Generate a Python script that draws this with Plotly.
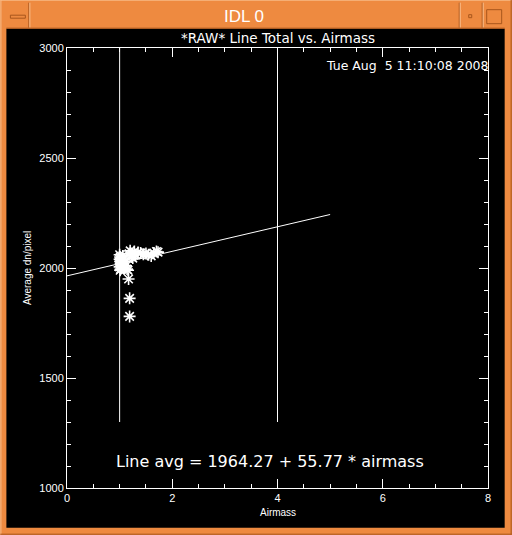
import plotly.graph_objects as go

# ---- data ----
airmass = [1.00, 1.01, 1.02, 1.00, 1.03, 1.01, 1.04, 1.02, 1.05, 1.03, 1.00, 1.04, 1.02, 1.01,
           1.06, 1.08, 1.10, 1.07, 1.12, 1.09, 1.14,
           1.18, 1.20, 1.22, 1.25, 1.28, 1.30,
           1.35, 1.40, 1.45, 1.50, 1.55, 1.60, 1.65, 1.70, 1.73,
           1.16, 1.17, 1.19, 1.19]
line_total = [2060, 2050, 2045, 2040, 2035, 2030, 2025, 2020, 2015, 2010, 2005, 2000, 1995, 1990,
              2055, 2040, 2030, 2020, 2010, 2000, 1995,
              2065, 2078, 2050, 2045, 2075, 2060,
              2070, 2068, 2062, 2066, 2060, 2055, 2068, 2075, 2072,
              1990, 1950, 1862, 1780]
fit_intercept = 1964.27
fit_slope = 55.77
fit_x = [0.0, 5.0]
marker_lines_x = [1.0, 4.0]
marker_lines_y = [1300, 3000]
x_ticks = [0, 2, 4, 6, 8]
y_ticks = [1000, 1500, 2000, 2500, 3000]

title_text = "*RAW* Line Total vs. Airmass"
date_text = "Tue Aug  5 11:10:08 2008"
fit_text = f"Line avg = {fit_intercept:.2f} + {fit_slope:.2f} * airmass"

# ---- geometry (pixels) ----
W, H = 512, 535
L, R, T, B = 66.7, 488.3, 48.3, 488.3


def fx(p):
    return (p - L) / (R - L)


def fy(p):
    return (B - p) / (B - T)


ORANGE = "#EE8A40"
LIGHT = "#F8BE8C"
DARK = "#A8561C"
FONT = "Liberation Sans"
WFONT = "DejaVu Sans"

fig = go.Figure()

# vertical reference lines
for xv in marker_lines_x:
    fig.add_trace(go.Scatter(x=[xv, xv], y=marker_lines_y, mode="lines",
                             line=dict(color="white", width=1), hoverinfo="skip"))

# fit line
fig.add_trace(go.Scatter(x=fit_x, y=[fit_intercept + fit_slope * v for v in fit_x],
                         mode="lines", line=dict(color="white", width=1), hoverinfo="skip"))

# data points
fig.add_trace(go.Scatter(x=airmass, y=line_total, mode="markers",
                         marker=dict(symbol="asterisk-open", size=10,
                                     color="white", line=dict(color="white", width=1.6))))

shapes = []


def rect(x0, y0, x1, y1, fill=None, line=None, lw=0):
    shapes.append(dict(type="rect", xref="paper", yref="paper",
                       x0=fx(x0), x1=fx(x1), y0=fy(y1), y1=fy(y0),
                       fillcolor=fill if fill else "rgba(0,0,0,0)",
                       line=dict(color=line if line else "rgba(0,0,0,0)", width=lw),
                       layer="below"))


def seg(x0, y0, x1, y1, color, lw=1):
    shapes.append(dict(type="line", xref="paper", yref="paper",
                       x0=fx(x0), x1=fx(x1), y0=fy(y0), y1=fy(y1),
                       line=dict(color=color, width=lw), layer="below"))


# window frame
rect(0, 0, W, H, fill=ORANGE)
seg(0.5, 0, 0.5, H, LIGHT)
seg(0, 0.5, W, 0.5, LIGHT)
seg(W - 0.5, 0, W - 0.5, H, DARK)
seg(0, H - 0.5, W, H - 0.5, DARK)
rect(6, 29, 505, 528, fill="black")
# title bar separators
for sx in (29, 460, 483):
    seg(sx - 0.5, 3, sx - 0.5, 28, DARK)
    seg(sx + 0.5, 3, sx + 0.5, 28, LIGHT)
seg(6, 28.5, 505, 28.5, DARK)
# buttons
rect(10, 15.5, 25, 18.5, fill=ORANGE, line=DARK, lw=1)
rect(469, 15, 472, 18, fill=ORANGE, line=DARK, lw=1)
rect(487, 10, 502, 24, fill=ORANGE, line=DARK, lw=1)

annotations = [
    dict(text="IDL 0", x=fx(244), y=fy(17), xref="paper", yref="paper",
         showarrow=False, xanchor="center", yanchor="middle",
         font=dict(family=FONT, size=17, color="white")),
    dict(text=title_text, x=fx(277.5), y=fy(38), xref="paper", yref="paper",
         showarrow=False, xanchor="center", yanchor="middle",
         font=dict(family=WFONT, size=13.5, color="white")),
    dict(text=date_text, x=fx(491), y=fy(66), xref="paper", yref="paper",
         showarrow=False, xanchor="right", yanchor="middle",
         font=dict(family=WFONT, size=12.5, color="white")),
    dict(text=fit_text, x=fx(270), y=fy(462), xref="paper", yref="paper",
         showarrow=False, xanchor="center", yanchor="middle",
         font=dict(family=WFONT, size=16, color="white")),
    dict(text="Airmass", x=fx(277.5), y=fy(513), xref="paper", yref="paper",
         showarrow=False, xanchor="center", yanchor="middle",
         font=dict(family=FONT, size=10, color="white")),
    dict(text="Average dn/pixel", x=fx(27), y=fy(268), xref="paper", yref="paper",
         showarrow=False, xanchor="center", yanchor="middle", textangle=-90,
         font=dict(family=FONT, size=10, color="white")),
]

axis_common = dict(showgrid=False, zeroline=False, showline=True, linecolor="white",
                   linewidth=1, mirror="allticks", ticks="inside", ticklen=9,
                   tickcolor="white", tickwidth=1,
                   tickfont=dict(family=FONT, size=11, color="white"))

fig.update_layout(
    width=W, height=H,
    margin=dict(l=L, r=W - R, t=T, b=H - B, pad=0),
    paper_bgcolor=ORANGE, plot_bgcolor="black",
    showlegend=False,
    shapes=shapes, annotations=annotations,
    xaxis=dict(range=[0, 8], tickvals=x_ticks, **axis_common,
               minor=dict(dtick=0.5, ticks="inside", ticklen=4, tickcolor="white",
                          showgrid=False)),
    yaxis=dict(range=[1000, 3000], tickvals=y_ticks, **axis_common,
               minor=dict(dtick=100, ticks="inside", ticklen=4, tickcolor="white",
                          showgrid=False)),
)

fig.write_html("out.html", config={"displayModeBar": False},
               post_script="document.body.style.margin='0';document.body.style.overflow='hidden';")
